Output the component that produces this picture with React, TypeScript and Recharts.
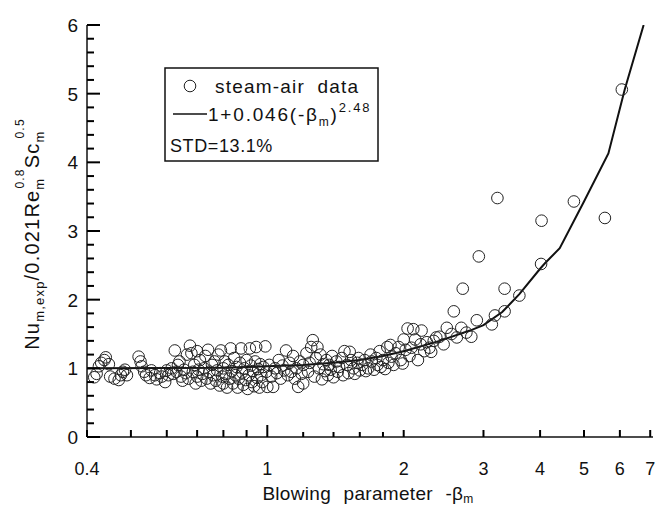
import React from 'react';
import {
  ComposedChart,
  Customized,
  Line,
  Scatter,
  XAxis,
  YAxis
} from 'recharts';

// steam-air data as [-beta_m, Nu ratio]
const lowBand: [number, number][] = [
  [0.415, 0.87], [0.42, 0.92], [0.425, 1.03], [0.43, 1.08], [0.437, 1.12],
  [0.44, 1.16], [0.447, 1.06], [0.45, 0.88], [0.46, 0.85], [0.47, 0.83],
  [0.475, 0.9], [0.48, 0.95], [0.485, 0.98], [0.49, 0.9],
  [0.52, 1.17], [0.525, 1.1], [0.528, 1.03], [0.535, 0.95], [0.54, 0.9],
  [0.55, 0.86], [0.555, 0.97], [0.565, 0.9], [0.57, 0.84], [0.58, 0.93],
  [0.585, 0.88], [0.595, 0.8], [0.6, 0.97], [0.605, 0.9]
];

const midBand: [number, number][] = [
  [0.615, 1.0], [0.62, 0.92], [0.625, 1.26], [0.63, 0.95], [0.635, 1.05],
  [0.64, 1.1], [0.645, 0.88], [0.65, 0.82], [0.655, 0.98], [0.66, 0.93],
  [0.665, 1.2], [0.67, 0.85], [0.675, 1.33], [0.68, 1.22], [0.685, 0.95],
  [0.69, 1.05], [0.695, 0.78], [0.7, 1.25], [0.7, 0.88], [0.705, 0.98],
  [0.71, 1.12], [0.715, 0.82], [0.72, 0.92], [0.725, 1.0], [0.73, 1.18],
  [0.735, 0.85], [0.74, 1.27], [0.745, 0.95], [0.75, 0.78], [0.755, 1.05],
  [0.76, 0.9], [0.765, 1.1], [0.77, 0.82], [0.775, 0.97], [0.78, 1.2],
  [0.785, 0.75], [0.79, 1.26], [0.795, 0.88], [0.8, 1.0], [0.8, 0.78],
  [0.805, 1.1], [0.81, 0.92], [0.815, 0.72], [0.82, 1.05], [0.825, 0.85],
  [0.83, 1.29], [0.835, 0.96], [0.84, 0.78], [0.845, 1.15], [0.85, 0.9],
  [0.855, 1.02], [0.86, 0.72], [0.865, 0.85], [0.87, 1.08], [0.875, 1.29],
  [0.88, 0.94], [0.885, 0.76], [0.89, 1.0], [0.895, 0.83], [0.9, 1.12],
  [0.905, 0.7], [0.91, 0.9], [0.915, 1.29], [0.92, 1.04], [0.925, 0.8],
  [0.93, 0.96], [0.935, 0.74], [0.94, 1.1], [0.945, 1.31], [0.95, 0.86],
  [0.955, 0.99], [0.96, 0.72], [0.965, 1.06], [0.97, 0.9], [0.975, 0.8],
  [0.98, 1.02], [0.99, 1.32], [0.995, 0.95]
];

const highBand: [number, number][] = [
  [1.0, 0.73], [1.01, 1.05], [1.02, 0.88], [1.03, 0.73], [1.04, 1.0],
  [1.05, 0.93], [1.06, 1.12], [1.07, 0.85], [1.08, 1.04], [1.09, 0.97],
  [1.1, 1.26], [1.11, 0.9], [1.12, 1.08], [1.13, 0.95], [1.14, 1.18],
  [1.15, 0.85], [1.16, 1.0], [1.17, 0.73], [1.18, 1.1], [1.19, 0.92],
  [1.2, 0.78], [1.2, 1.05], [1.22, 1.22], [1.23, 0.95], [1.24, 1.08],
  [1.25, 1.31], [1.26, 1.41], [1.27, 0.88], [1.28, 1.15], [1.29, 1.31],
  [1.3, 1.0], [1.31, 1.2], [1.32, 0.84], [1.33, 1.06], [1.34, 0.96],
  [1.35, 1.12], [1.36, 0.9], [1.37, 1.05], [1.38, 0.98], [1.39, 1.18],
  [1.4, 0.87], [1.42, 1.1], [1.43, 0.95], [1.44, 1.02], [1.46, 1.15],
  [1.47, 0.9], [1.48, 1.25], [1.5, 1.05], [1.51, 0.93], [1.52, 1.24],
  [1.53, 1.12], [1.55, 1.0], [1.56, 0.92], [1.58, 1.08], [1.59, 1.15],
  [1.6, 0.97], [1.62, 1.05], [1.64, 1.12], [1.65, 0.96], [1.67, 1.0],
  [1.69, 1.2], [1.7, 1.1], [1.72, 0.98], [1.74, 1.15], [1.75, 1.05],
  [1.77, 1.25], [1.78, 1.02], [1.8, 1.12], [1.82, 0.99], [1.84, 1.31],
  [1.85, 1.08], [1.87, 1.34], [1.88, 1.17], [1.9, 1.05]
];

const blowBand: [number, number][] = [
  [1.92, 1.22], [1.95, 1.31], [1.97, 1.12], [1.99, 1.07], [2.0, 1.42],
  [2.02, 1.27], [2.04, 1.58], [2.06, 1.18], [2.08, 1.3], [2.1, 1.57],
  [2.12, 1.42], [2.15, 1.12], [2.18, 1.35], [2.19, 1.55], [2.22, 1.25],
  [2.25, 1.38], [2.28, 1.3], [2.3, 1.24], [2.33, 1.4], [2.36, 1.45],
  [2.4, 1.46], [2.45, 1.35], [2.49, 1.59], [2.55, 1.5], [2.58, 1.83],
  [2.62, 1.45], [2.68, 1.59], [2.7, 2.16], [2.75, 1.52], [2.82, 1.46],
  [2.9, 1.7], [2.93, 2.63], [3.13, 1.64], [3.18, 1.77], [3.22, 3.48],
  [3.34, 1.83], [3.34, 2.16], [3.6, 2.06], [4.02, 2.52], [4.03, 3.15],
  [4.75, 3.43], [5.56, 3.19], [6.06, 5.06]
];

// correlation curve 1+0.046(-beta_m)^2.48
const curveX = [0.4, 0.6, 0.8, 1.0, 1.2, 1.4, 1.6, 1.8, 2.0, 2.4, 2.8, 3.0, 3.3, 3.6, 4.0, 4.1, 4.42, 5.0, 5.66, 6.15, 6.77];
const curveY = [1.0, 1.005, 1.01, 1.03, 1.05, 1.08, 1.12, 1.18, 1.25, 1.4, 1.55, 1.63, 1.82, 2.08, 2.45, 2.53, 2.75, 3.43, 4.13, 5.06, 6.0];

const xTicks = [0.4, 0.5, 0.6, 0.7, 0.8, 0.9, 1, 1.2, 1.4, 1.6, 1.8, 2, 3, 4, 5, 6, 7];
const xLabels = [0.4, 1, 2, 3, 4, 5, 6, 7];
const yTicks = [
  0, 0.2, 0.4, 0.6, 0.8, 1, 1.2, 1.4, 1.6, 1.8, 2, 2.2, 2.4, 2.6, 2.8, 3,
  3.2, 3.4, 3.6, 3.8, 4, 4.2, 4.4, 4.6, 4.8, 5, 5.2, 5.4, 5.6, 5.8, 6
];

const points = [...lowBand, ...midBand, ...highBand, ...blowBand].map(([x, y]) => ({ x, y }));
const curve = curveX.map((x, i) => ({ x, y: curveY[i] }));

const FONT = '"Liberation Sans", Arial, Helvetica, sans-serif';
const INK = '#111';
const TICK = '#000';
const TICK_W = 2;

const xTickLen = (v: number) => {
  if (v === 1) return 12;
  if (v > 1 && v < 2) return 5;
  return 7;
};

const yTickLen = (v: number) => (Math.abs(v - Math.round(v)) < 1e-6 ? 13 : 7);

const BottomTick = (props: any) => {
  const { x, y, payload } = props;
  const v = payload.value;
  const label = xLabels.includes(v);
  return (
    <g>
      <path d={`M${x},${y}V${y - xTickLen(v)}`} stroke={TICK} strokeWidth={TICK_W} fill="none" />
      {label && (
        <text x={x} y={y + 38} textAnchor="middle" fontSize={18} fontFamily={FONT} fill={INK} stroke="none">
          {v}
        </text>
      )}
    </g>
  );
};

const TopTick = (props: any) => {
  const { x, y, payload } = props;
  return <path d={`M${x},${y}V${y + xTickLen(payload.value)}`} stroke={TICK} strokeWidth={TICK_W} fill="none" />;
};

const LeftTick = (props: any) => {
  const { x, y, payload } = props;
  const v = payload.value;
  const major = Math.abs(v - Math.round(v)) < 1e-6;
  return (
    <g>
      <path d={`M${x},${y}H${x + yTickLen(v)}`} stroke={TICK} strokeWidth={TICK_W} fill="none" />
      {major && (
        <text x={x - 9} y={y + 7} textAnchor="end" fontSize={19} fontFamily={FONT} fill={INK} stroke="none">
          {Math.round(v)}
        </text>
      )}
    </g>
  );
};

const RightTick = (props: any) => {
  const { x, y, payload } = props;
  return <path d={`M${x},${y}H${x - yTickLen(payload.value)}`} stroke={TICK} strokeWidth={TICK_W} fill="none" />;
};

const Ring = (props: any) => {
  const { cx, cy } = props;
  if (cx == null || cy == null) return null;
  return <circle cx={cx} cy={cy} r={5.8} fill="none" stroke="#222" strokeWidth={1} />;
};

const XTitle = () => (
  <text x={368} y={500} textAnchor="middle" fontSize={19} fontFamily={FONT} fill={INK} wordSpacing={7} letterSpacing={0.3}>
    Blowing parameter -β
    <tspan fontSize={12} dy={3}>m</tspan>
  </text>
);

const YTitle = () => (
  <text
    transform="translate(39,234) rotate(-90)"
    textAnchor="middle"
    fontSize={20}
    fontFamily={FONT}
    fill={INK}
    letterSpacing={1.2}
  >
    Nu
    <tspan fontSize={13} dy={5}>m,exp</tspan>
    <tspan dy={-5}>/0.021Re</tspan>
    <tspan fontSize={13} dy={5}>m</tspan>
    <tspan fontSize={12} dx={-11} dy={-20}>0.8</tspan>
    <tspan dy={15}>Sc</tspan>
    <tspan fontSize={13} dy={5}>m</tspan>
    <tspan fontSize={12} dx={-8} dy={-20}>0.5</tspan>
  </text>
);

const LegendBox = () => (
  <g fontFamily={FONT} fill={INK}>
    <rect x={165} y={68} width={213} height={93} fill="#fff" stroke={INK} strokeWidth={1.5} />
    <circle cx={190} cy={86} r={5.8} fill="none" stroke="#222" strokeWidth={1} />
    <text x={215} y={93} fontSize={19} letterSpacing={1.2} wordSpacing={6}>steam-air data</text>
    <path d="M173,114H207" stroke={INK} strokeWidth={1.3} fill="none" />
    <text x={208} y={121} fontSize={19} letterSpacing={1.8}>
      1+0.046(-β
      <tspan fontSize={12} dy={5}>m</tspan>
      <tspan dy={-5}>)</tspan>
      <tspan fontSize={13} dy={-9}>2.48</tspan>
    </text>
    <text x={170} y={152} fontSize={18} letterSpacing={0.6}>STD=13.1%</text>
  </g>
);

const App: React.FC = () => {
  return (
    <div style={{ width: 656, height: 506, background: '#fff' }}>
      <style>{'body{margin:0;background:#fff;}'}</style>
      <ComposedChart width={656} height={506} margin={{ top: 25, right: 3, left: 0, bottom: 0 }}>
        <XAxis
          dataKey="x"
          type="number"
          scale="log"
          domain={[0.4, 7.1]}
          allowDataOverflow
          ticks={xTicks}
          interval={0}
          height={69}
          tickSize={0}
          tickMargin={0}
          tickLine={false}
          tick={<BottomTick />}
          axisLine={{ stroke: INK, strokeWidth: 1.5 }}
          label={<XTitle />}
        />
        <XAxis
          xAxisId="top"
          orientation="top"
          dataKey="x"
          type="number"
          scale="log"
          domain={[0.4, 7.1]}
          allowDataOverflow
          ticks={xTicks}
          interval={0}
          height={0}
          tickSize={0}
          tickMargin={0}
          tickLine={false}
          tick={<TopTick />}
          axisLine={{ stroke: INK, strokeWidth: 1.5 }}
        />
        <YAxis
          dataKey="y"
          type="number"
          domain={[0, 6]}
          allowDataOverflow
          ticks={yTicks}
          interval={0}
          width={87}
          tickSize={0}
          tickMargin={0}
          tickLine={false}
          tick={<LeftTick />}
          axisLine={{ stroke: INK, strokeWidth: 1.5 }}
          label={<YTitle />}
        />
        <YAxis
          yAxisId="right"
          orientation="right"
          dataKey="y"
          type="number"
          domain={[0, 6]}
          allowDataOverflow
          ticks={yTicks}
          interval={0}
          width={0}
          tickSize={0}
          tickMargin={0}
          tickLine={false}
          tick={<RightTick />}
          axisLine={{ stroke: INK, strokeWidth: 1.5 }}
        />
        <Scatter data={points} dataKey="y" shape={<Ring />} isAnimationActive={false} />
        <Line
          data={curve}
          dataKey="y"
          type="linear"
          stroke={INK}
          strokeWidth={2}
          dot={false}
          activeDot={false}
          isAnimationActive={false}
        />
        <Customized component={LegendBox} />
      </ComposedChart>
    </div>
  );
};

export default App;
